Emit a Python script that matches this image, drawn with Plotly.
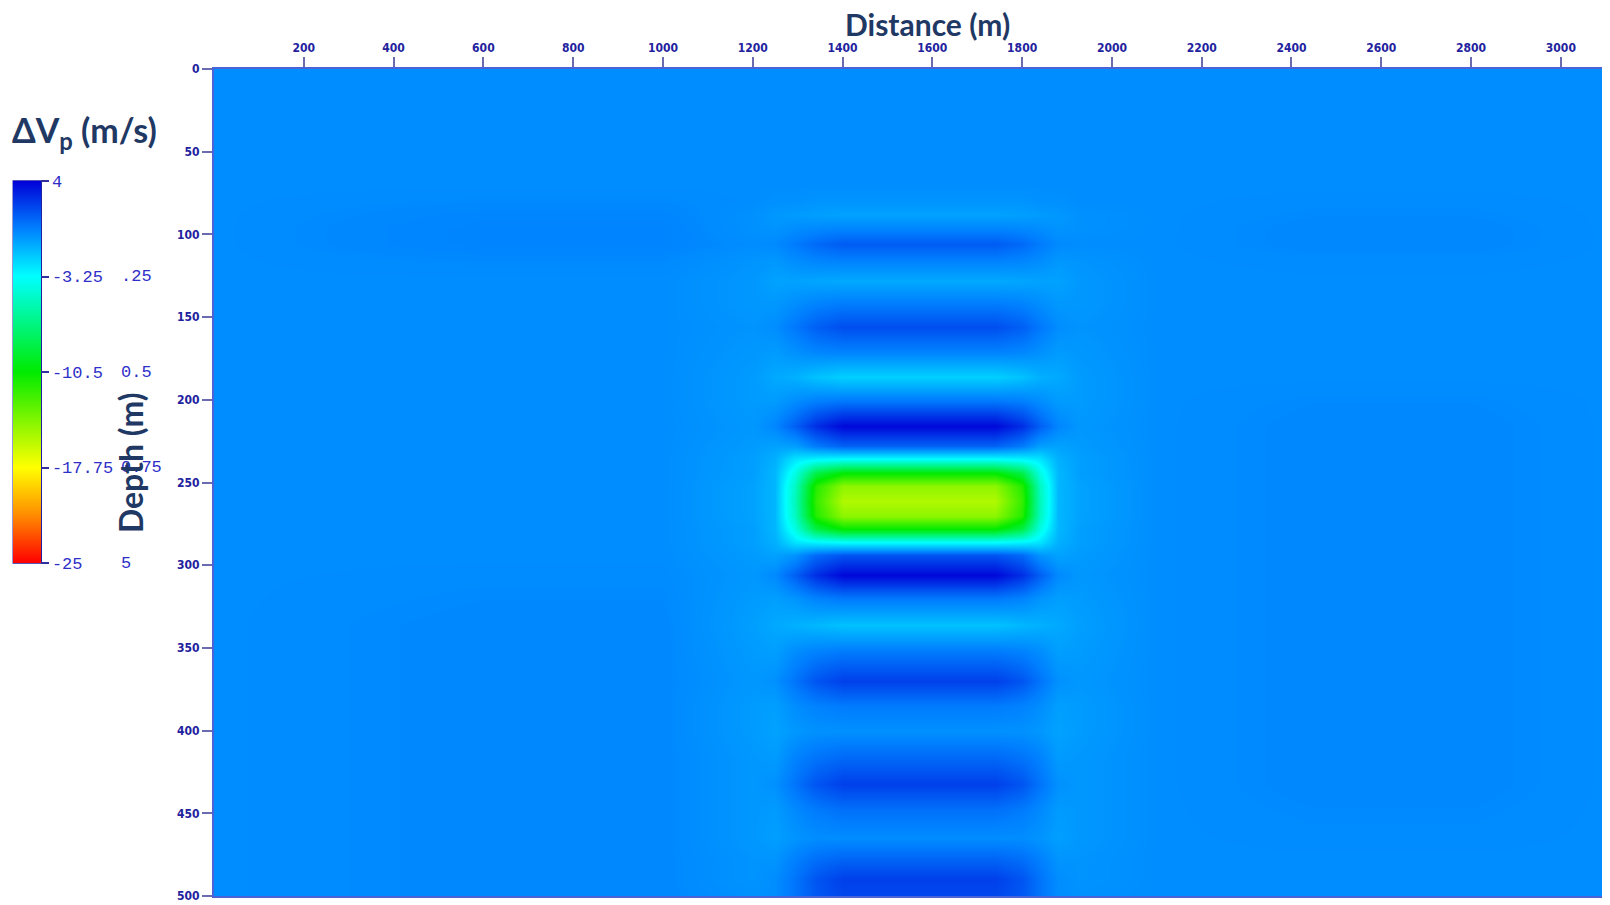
import plotly.graph_objects as go

# ---------------- data ----------------
# depth samples (m) shared by every column profile
DEPTH = [0, 40, 70, 80, 88, 96, 106, 116, 128, 142, 156, 171, 186, 201, 216, 228, 236,
         244, 252, 261, 270, 278, 286, 294, 306, 320, 336, 352, 370, 385, 400, 416, 432,
         448, 465, 478, 490, 500]

# dVp (m/s) depth profiles observed at different distances
CENTER = [0, 0, 0, -0.2, -0.6, 0.2, 1.4, 0.3, -0.8, 0.5, 1.8, 0.3, -1.9, 0.6, 3.8, 1.2, -3.3,
          -10.5, -14.5, -15.5, -14.5, -10.5, -3.3, 1.6, 3.8, 0.6, -1.5, 0.5, 2.2, 0.5, -0.1, 1.0, 2.2,
          0.8, 0.0, 1.2, 2.2, 2.0]
SHOULDER = [0, 0, 0, -0.2, -0.5, 0.1, 1.0, 0.2, -0.7, 0.3, 1.3, 0.2, -1.5, 0.4, 2.7, 0.5, -3.0,
            -8.5, -11.5, -12.0, -11.5, -8.5, -3.0, 1.0, 2.7, 0.3, -1.2, 0.3, 1.6, 0.3, -0.1, 0.7, 1.6,
            0.5, 0.0, 0.9, 1.6, 1.5]
EDGE = [0, 0, 0, -0.1, -0.4, 0.0, 0.5, 0.0, -0.6, 0.0, 0.6, -0.1, -1.0, 0.0, 1.3, -0.5, -2.5,
        -4.0, -5.0, -5.2, -5.0, -4.0, -2.5, -0.2, 1.3, -0.2, -1.0, 0.0, 0.7, 0.0, -0.3, 0.3, 0.7,
        0.1, -0.2, 0.4, 0.7, 0.7]
EDGE_OUTER = [0, 0, 0, -0.1, -0.3, -0.2, 0.1, -0.3, -0.6, -0.3, 0.0, -0.4, -0.8, -0.4, 0.2, -0.6, -1.0,
              -1.2, -1.2, -1.2, -1.2, -1.2, -1.0, -0.6, 0.1, -0.5, -0.8, -0.5, -0.1, -0.5, -0.6, -0.4, -0.1,
              -0.4, -0.5, -0.2, 0.0, 0.0]
HALO = [0, 0, 0, 0, -0.1, -0.1, 0, -0.2, -0.3, -0.3, -0.2, -0.3, -0.4, -0.4, -0.3, -0.4, -0.5,
        -0.5, -0.6, -0.6, -0.6, -0.5, -0.5, -0.4, -0.3, -0.4, -0.5, -0.4, -0.3, -0.4, -0.4, -0.3, -0.3,
        -0.3, -0.3, -0.2, -0.2, -0.1]
BG_A = [0, 0, 0, 0.1, 0.2, 0.25, 0.25, 0.1, 0, 0, 0, 0, 0, 0, 0, 0, 0,
        0, 0, 0, 0, 0, 0, 0, 0.05, 0.1, 0.15, 0.15, 0.15, 0.15, 0.15, 0.15, 0.15,
        0.15, 0.15, 0.15, 0.15, 0.15]
BG_B = [0, 0, 0, 0.05, 0.1, 0.15, 0.15, 0.05, 0, 0, 0, 0, 0, 0.1, 0.15, 0.15, 0.15,
        0.15, 0.15, 0.15, 0.15, 0.15, 0.15, 0.15, 0.15, 0.15, 0.15, 0.15, 0.15, 0.15, 0.15, 0.15, 0.15,
        0.1, 0.05, 0, 0, 0]
BG0 = [0] * len(DEPTH)

PROFILES = {"CENTER": CENTER, "SHOULDER": SHOULDER, "EDGE": EDGE, "EDGE_OUTER": EDGE_OUTER,
            "HALO": HALO, "BG_A": BG_A, "BG_B": BG_B, "BG0": BG0}
for _k, _v in PROFILES.items():
    assert len(_v) == len(DEPTH), _k

# distance (m) of each observed column and which profile it shows
COL_X = [0, 600, 1000, 1200, 1250, 1295, 1340, 1400, 1560, 1740, 1800, 1840, 1880, 1930, 2100, 2450, 2800, 3110]
COL_PROFILE = ["BG0", "BG_A", "BG_A", "HALO", "EDGE_OUTER", "EDGE", "SHOULDER", "CENTER", "CENTER",
               "CENTER", "SHOULDER", "EDGE", "EDGE_OUTER", "HALO", "BG0", "BG_B", "BG_B", "BG0"]

X_TICKS = list(range(200, 3001, 200))
Y_TICKS = list(range(0, 501, 50))
CB_TICKS = [-25, -17.75, -10.5, -3.25, 4]
CB_TEXT = ["-25", "-17.75", "-10.5", "-3.25", "4"]
CB_TEXT2 = ["5", "0.75", "0.5", ".25"]

Z = [[PROFILES[p][i] for p in COL_PROFILE] for i in range(len(DEPTH))]

# ---------------- layout geometry ----------------
# the page body has an 8 px margin; the figure is sized so it ends at the window edge
OFF = 8
W, H = 1610 - OFF, 905 - OFF
L, R, T, B = 214 - OFF, 0, 69 - OFF, 9
PW, PH = W - L - R, H - T - B


def px(xr):
    """window x (px) -> paper x"""
    return (xr - OFF - L) / PW


def py(yr):
    """window y (px) -> paper y"""
    return (H - B - (yr - OFF)) / PH


CB_LEFT, CB_TOP, CB_BOTTOM, CB_W = 13, 181, 563, 28


def cb_y(v):
    return CB_BOTTOM - (v - (-25)) / 29.0 * (CB_BOTTOM - CB_TOP)


COLORSCALE = [[0.0, "rgb(255,0,0)"], [0.125, "rgb(255,140,0)"], [0.25, "rgb(255,255,0)"],
              [0.5, "rgb(0,235,0)"], [0.75, "rgb(0,255,255)"], [0.875, "rgb(0,128,255)"],
              [1.0, "rgb(0,0,215)"]]

NAVY = "#1f3864"
TICKBLUE = "#22229e"
MONO = "Liberation Mono, DejaVu Sans Mono, monospace"
TITLE_FONT = "Lato, Open Sans, sans-serif"

fig = go.Figure(go.Heatmap(
    x=COL_X, y=DEPTH, z=Z, zmin=-25, zmax=4, zsmooth="best",
    colorscale=COLORSCALE, hoverinfo="skip",
    colorbar=dict(
        x=px(CB_LEFT), xanchor="left",
        y=py(CB_TOP), yanchor="top",
        thickness=CB_W, thicknessmode="pixels",
        len=CB_BOTTOM - CB_TOP, lenmode="pixels",
        xpad=0, ypad=0,
        outlinewidth=0,
        tickvals=CB_TICKS, ticktext=CB_TEXT,
        ticks="outside", ticklen=8, tickwidth=1.5, tickcolor="#3030a0",
        tickfont=dict(family=MONO, size=17, color="#2e2ec8"),
    ),
))

axis_common = dict(
    ticks="outside", ticklen=10, tickwidth=1.5, tickcolor="#6b6bb0",
    showline=True, linecolor="#4a63d6", linewidth=2, mirror=True,
    showgrid=False, zeroline=False,
    tickfont=dict(family="DejaVu Sans Condensed, Liberation Sans Narrow, Liberation Sans, Arial",
                  size=12, color=TICKBLUE, weight="bold"),
)

fig.update_layout(
    width=W, height=H,
    margin=dict(l=L, r=R, t=T, b=B),
    paper_bgcolor="white", plot_bgcolor="white",
    xaxis=dict(side="top", range=[0, 3105], tickvals=X_TICKS, **axis_common),
    yaxis=dict(range=[500, 0], tickvals=Y_TICKS, **axis_common),
    showlegend=False,
)

# colour-bar outline and the lines across it at the inner ticks
shapes = [dict(type="rect", xref="paper", yref="paper",
               x0=px(CB_LEFT), x1=px(CB_LEFT + CB_W), y0=py(CB_BOTTOM), y1=py(CB_TOP),
               line=dict(color="#2020a0", width=1.5))]
for v in CB_TICKS[1:-1]:
    yy = py(cb_y(v))
    shapes.append(dict(type="line", xref="paper", yref="paper",
                       x0=px(CB_LEFT), x1=px(CB_LEFT + CB_W), y0=yy, y1=yy,
                       line=dict(color="#202060", width=1.5)))
fig.update_layout(shapes=shapes)

ann = []
# second column of old labels beside the colour bar
for v, t in zip(CB_TICKS[:-1], CB_TEXT2):
    ann.append(dict(text=t, xref="paper", yref="paper", x=px(119), y=py(cb_y(v)),
                    xanchor="left", yanchor="middle", showarrow=False,
                    font=dict(family=MONO, size=17, color="#2e2ec8")))
ann.append(dict(text="ΔV<sub>p</sub> (m/s)", xref="paper", yref="paper", x=px(10), y=py(132),
                xanchor="left", yanchor="middle", showarrow=False,
                font=dict(family=TITLE_FONT, size=34, color=NAVY, weight="bold")))
ann.append(dict(text="Distance (m)", xref="paper", yref="paper", x=px(929), y=py(24),
                xanchor="center", yanchor="middle", showarrow=False,
                font=dict(family=TITLE_FONT, size=30, color=NAVY, weight="bold")))
ann.append(dict(text="Depth (m)", xref="paper", yref="paper", x=px(130), y=py(463),
                xanchor="center", yanchor="middle", showarrow=False, textangle=-90,
                font=dict(family=TITLE_FONT, size=32, color=NAVY, weight="bold")))
fig.update_layout(annotations=ann)

fig.write_html("out.html")
